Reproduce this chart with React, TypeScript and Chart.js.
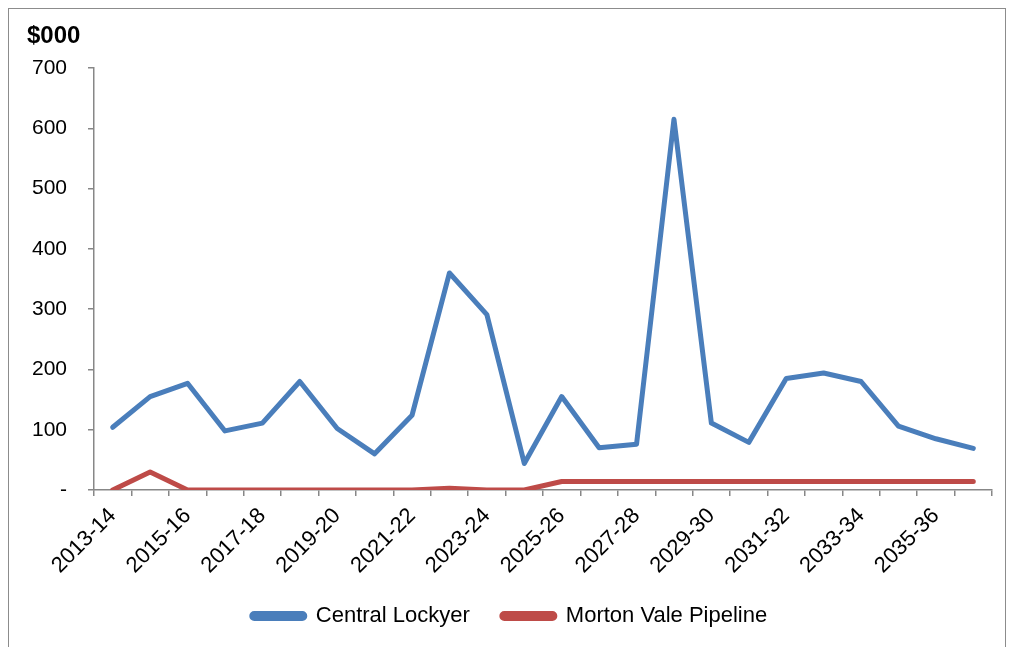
import React, { useEffect, useRef } from "react";
import { Chart, registerables } from "chart.js";

Chart.register(...registerables);

const unitLabel = "$000";

const categories = [
  "2013-14", "2014-15", "2015-16", "2016-17", "2017-18", "2018-19",
  "2019-20", "2020-21", "2021-22", "2022-23", "2023-24", "2024-25",
  "2025-26", "2026-27", "2027-28", "2028-29", "2029-30", "2030-31",
  "2031-32", "2032-33", "2033-34", "2034-35", "2035-36", "2036-37",
];

const centralLockyer = [
  104, 155, 177, 98, 111, 180, 102, 60, 124, 360, 291, 44,
  155, 70, 76, 615, 111, 79, 185, 194, 180, 106, 85, 69,
];

const mortonValePipeline = [
  0, 30, 0, 0, 0, 0, 0, 0, 0, 3, 0, 0,
  14, 14, 14, 14, 14, 14, 14, 14, 14, 14, 14, 14,
];

const yTicks = [0, 100, 200, 300, 400, 500, 600, 700];

const FONT = "'Liberation Sans', Arial, Helvetica, sans-serif";
const AXIS = "#878787";

const unitTitlePlugin = {
  id: "unitTitle",
  afterDraw(chart: any) {
    const ctx = chart.ctx;
    ctx.save();
    ctx.font = `bold 24px ${FONT}`;
    ctx.fillStyle = "#000";
    ctx.textAlign = "left";
    ctx.textBaseline = "alphabetic";
    ctx.fillText(unitLabel, 18, 34);
    ctx.restore();
  },
};

export default function App() {
  const ref = useRef<HTMLCanvasElement | null>(null);

  useEffect(() => {
    if (!ref.current) return;
    const chart = new Chart(ref.current, {
      type: "line",
      data: {
        labels: categories,
        datasets: [
          {
            label: "Central Lockyer",
            data: centralLockyer,
            borderColor: "#4A7EBB",
            backgroundColor: "#4A7EBB",
            borderWidth: 5,
            pointRadius: 0,
            borderCapStyle: "round",
            borderJoinStyle: "round",
            tension: 0,
          },
          {
            label: "Morton Vale Pipeline",
            data: mortonValePipeline,
            borderColor: "#BE4B48",
            backgroundColor: "#BE4B48",
            borderWidth: 5,
            pointRadius: 0,
            borderCapStyle: "round",
            borderJoinStyle: "round",
            tension: 0,
          },
        ],
      },
      plugins: [unitTitlePlugin],
      options: {
        responsive: false,
        animation: false,
        devicePixelRatio: 1,
        layout: { padding: { left: 18, right: 13, top: 59, bottom: 10 } },
        plugins: {
          title: { display: false },
          legend: {
            position: "bottom",
            labels: {
              boxWidth: 53,
              boxHeight: 5,
              useBorderRadius: true,
              borderRadius: 2.5,
              color: "#000",
              font: { family: FONT, size: 22 },
              padding: 32,
            },
          },
          tooltip: { enabled: false },
        },
        scales: {
          x: {
            offset: true,
            grid: {
              offset: true,
              drawOnChartArea: false,
              drawTicks: true,
              tickLength: 6,
              color: AXIS,
              lineWidth: 1.5,
            },
            border: { color: AXIS, width: 1.5 },
            ticks: {
              autoSkip: false,
              maxRotation: 45,
              minRotation: 45,
              padding: 7,
              color: "#000",
              font: { family: FONT, size: 22 },
              callback: (_v: any, i: number) => (i % 2 === 0 ? categories[i] : ""),
            },
            afterFit: (s: any) => {
              s.height = 83;
            },
          },
          y: {
            min: yTicks[0],
            max: yTicks[yTicks.length - 1],
            afterBuildTicks: (s: any) => {
              s.ticks = yTicks.map((v) => ({ value: v }));
            },
            grid: {
              drawOnChartArea: false,
              drawTicks: true,
              tickLength: 6,
              color: AXIS,
              lineWidth: 1.5,
            },
            border: { color: AXIS, width: 1.5 },
            ticks: {
              padding: 21,
              color: "#000",
              font: { family: FONT, size: 21 },
              callback: (v: any) => (Number(v) === 0 ? "-" : String(v)),
            },
            afterFit: (s: any) => {
              s.width = 67;
            },
          },
        },
      },
    });
    return () => chart.destroy();
  }, []);

  return (
    <div
      style={{
        position: "fixed",
        left: 8,
        top: 8,
        width: 996,
        height: 639,
        borderTop: "1px solid #8c8c8c",
        borderLeft: "1px solid #8c8c8c",
        borderRight: "1px solid #8c8c8c",
        background: "#fff",
        overflow: "hidden",
      }}
    >
      <canvas ref={ref} width={996} height={638} style={{ display: "block" }} />
    </div>
  );
}
